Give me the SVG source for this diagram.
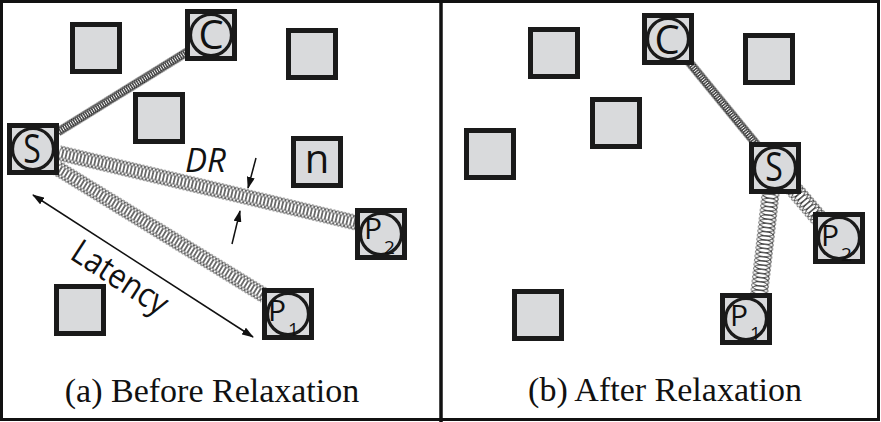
<svg xmlns="http://www.w3.org/2000/svg" width="881" height="422" viewBox="0 0 881 422">
<style>
.sq{fill:#d9dadc;stroke:#1a1a1a;stroke-width:5}
.ci{fill:#d9dadc;stroke:#1a1a1a;stroke-width:3.2}
.nl{font-family:"Open Sans","DejaVu Sans",sans-serif;font-size:40px;fill:#111}
.pl{font-family:"Open Sans","DejaVu Sans",sans-serif;font-size:30px;fill:#111}
.sb{font-family:"Open Sans","DejaVu Sans",sans-serif;font-size:19px;fill:#111}
.cap{font-family:"Liberation Serif","Times New Roman",serif;font-size:34px;fill:#111;text-anchor:middle}
.ar{stroke:#111;stroke-width:1.5;fill:none}
.coil{fill:none;stroke:#2e2e2e;stroke-width:0.85}
</style>
<defs>
<marker id="ah" viewBox="0 0 12 8" refX="11" refY="4" markerWidth="12" markerHeight="8" markerUnits="userSpaceOnUse" orient="auto-start-reverse">
<path d="M0,0 L12,4 L0,8 Z" fill="#111"/>
</marker>
<pattern id="coilS" patternUnits="userSpaceOnUse" x="0" y="-6" width="2.4" height="12">
<g class="coil"><ellipse cx="-2.4" cy="6" rx="2.3" ry="4"/><ellipse cx="0" cy="6" rx="2.3" ry="4"/><ellipse cx="2.4" cy="6" rx="2.3" ry="4"/><ellipse cx="4.8" cy="6" rx="2.3" ry="4"/></g>
</pattern>
<pattern id="coilT" patternUnits="userSpaceOnUse" x="0" y="-9" width="3.7" height="18">
<g class="coil"><ellipse cx="-3.7" cy="9" rx="3.6" ry="7.2"/><ellipse cx="0" cy="9" rx="3.6" ry="7.2"/><ellipse cx="3.7" cy="9" rx="3.6" ry="7.2"/><ellipse cx="7.4" cy="9" rx="3.6" ry="7.2"/></g>
</pattern>
<pattern id="coilB" patternUnits="userSpaceOnUse" x="0" y="-10" width="4.2" height="20">
<g class="coil"><ellipse cx="-4.2" cy="10" rx="4.2" ry="8.3"/><ellipse cx="0" cy="10" rx="4.2" ry="8.3"/><ellipse cx="4.2" cy="10" rx="4.2" ry="8.3"/><ellipse cx="8.4" cy="10" rx="4.2" ry="8.3"/></g>
</pattern>
</defs>
<rect x="0" y="0" width="881" height="422" fill="#fff"/>
<rect x="1.5" y="1.5" width="877" height="418" fill="none" stroke="#111" stroke-width="3"/>
<line x1="441" y1="0" x2="441" y2="422" stroke="#111" stroke-width="3.5"/>

<g id="connectors">
<g transform="translate(58,132) rotate(-31.8)"><rect x="0" y="-5" width="152" height="10" fill="url(#coilS)"/></g>
<g transform="translate(59,153) rotate(13.2)"><rect x="0" y="-9" width="306" height="18" fill="url(#coilT)"/></g>
<g transform="translate(57,168) rotate(31.6)"><rect x="0" y="-9" width="244" height="18" fill="url(#coilT)"/></g>
<g transform="translate(689,62) rotate(50.7)"><rect x="0" y="-5" width="108" height="10" fill="url(#coilS)"/></g>
<g transform="translate(771,190) rotate(96.5)"><rect x="0" y="-10" width="107" height="20" fill="url(#coilB)"/></g>
<g transform="translate(793,188) rotate(49.5)"><rect x="0" y="-10" width="45" height="20" fill="url(#coilB)"/></g>
<line class="ar" x1="256" y1="158" x2="248" y2="188" marker-end="url(#ah)"/>
<line class="ar" x1="232" y1="244" x2="240" y2="211" marker-end="url(#ah)"/>
<line class="ar" x1="33" y1="195" x2="253" y2="337" marker-start="url(#ah)" marker-end="url(#ah)"/>
</g>

<g id="labels">
<text x="185" y="172" font-family="Open Sans, DejaVu Sans, sans-serif" font-style="italic" font-size="33" fill="#111">DR</text>
<text transform="translate(68.5,258) rotate(32.8)" font-family="Open Sans, DejaVu Sans, sans-serif" font-size="34" fill="#111" textLength="108" lengthAdjust="spacingAndGlyphs">Latency</text>
<text class="cap" x="212" y="402">(a) Before Relaxation</text>
<text class="cap" x="665" y="401">(b) After Relaxation</text>
</g>

<!-- panel a -->
<g id="a-q1"><rect class="sq" x="72.5" y="24.5" width="47" height="47"/></g>
<g id="a-q2"><rect class="sq" x="288.5" y="30.5" width="47" height="47"/></g>
<g id="a-q3"><rect class="sq" x="135.5" y="94.5" width="47" height="47"/></g>
<g id="a-q4"><rect class="sq" x="56.5" y="286.5" width="47" height="47"/></g>
<g id="a-n"><rect class="sq" x="293.5" y="138.5" width="47" height="47"/><text class="nl" x="317" y="173" text-anchor="middle">n</text></g>
<g id="a-C"><rect class="sq" x="187.5" y="11.5" width="47" height="47"/><circle class="ci" cx="211" cy="35" r="20.5"/><text class="nl" x="211" y="49" text-anchor="middle">C</text></g>
<g id="a-S"><rect class="sq" x="9.5" y="125.5" width="47" height="47"/><circle class="ci" cx="33" cy="149" r="20.5"/><text class="nl" transform="translate(32,163) scale(0.8,1)" text-anchor="middle">S</text></g>
<g id="a-P2"><rect class="sq" x="357.5" y="210.5" width="47" height="47"/><circle class="ci" cx="381" cy="234" r="20.5"/><text class="pl" x="364" y="239">P</text><text class="sb" x="384" y="254">2</text></g>
<g id="a-P1"><rect class="sq" x="264.5" y="290.5" width="47" height="47"/><circle class="ci" cx="288" cy="314" r="20.5"/><text class="pl" x="268" y="321">P</text><text class="sb" x="288" y="336">1</text></g>

<!-- panel b -->
<g id="b-q5"><rect class="sq" x="530.5" y="29.5" width="47" height="47"/></g>
<g id="b-q6"><rect class="sq" x="745.5" y="35.5" width="47" height="47"/></g>
<g id="b-q7"><rect class="sq" x="592.5" y="99.5" width="47" height="47"/></g>
<g id="b-q8"><rect class="sq" x="466.5" y="130.5" width="47" height="47"/></g>
<g id="b-q9"><rect class="sq" x="514.5" y="291.5" width="47" height="47"/></g>
<g id="b-C"><rect class="sq" x="644.5" y="15.5" width="47" height="47"/><circle class="ci" cx="668" cy="39" r="20.5"/><text class="nl" x="667" y="54" text-anchor="middle">C</text></g>
<g id="b-S"><rect class="sq" x="751.5" y="144.5" width="47" height="47"/><circle class="ci" cx="775" cy="168" r="20.5"/><text class="nl" transform="translate(774,181) scale(0.8,1)" text-anchor="middle">S</text></g>
<g id="b-P2"><rect class="sq" x="815.5" y="214.5" width="47" height="47"/><circle class="ci" cx="839" cy="238" r="20.5"/><text class="pl" x="821" y="246">P</text><text class="sb" x="841" y="261">2</text></g>
<g id="b-P1"><rect class="sq" x="722.5" y="295.5" width="47" height="47"/><circle class="ci" cx="746" cy="319" r="20.5"/><text class="pl" x="730" y="326">P</text><text class="sb" x="750" y="340">1</text></g>
</svg>
